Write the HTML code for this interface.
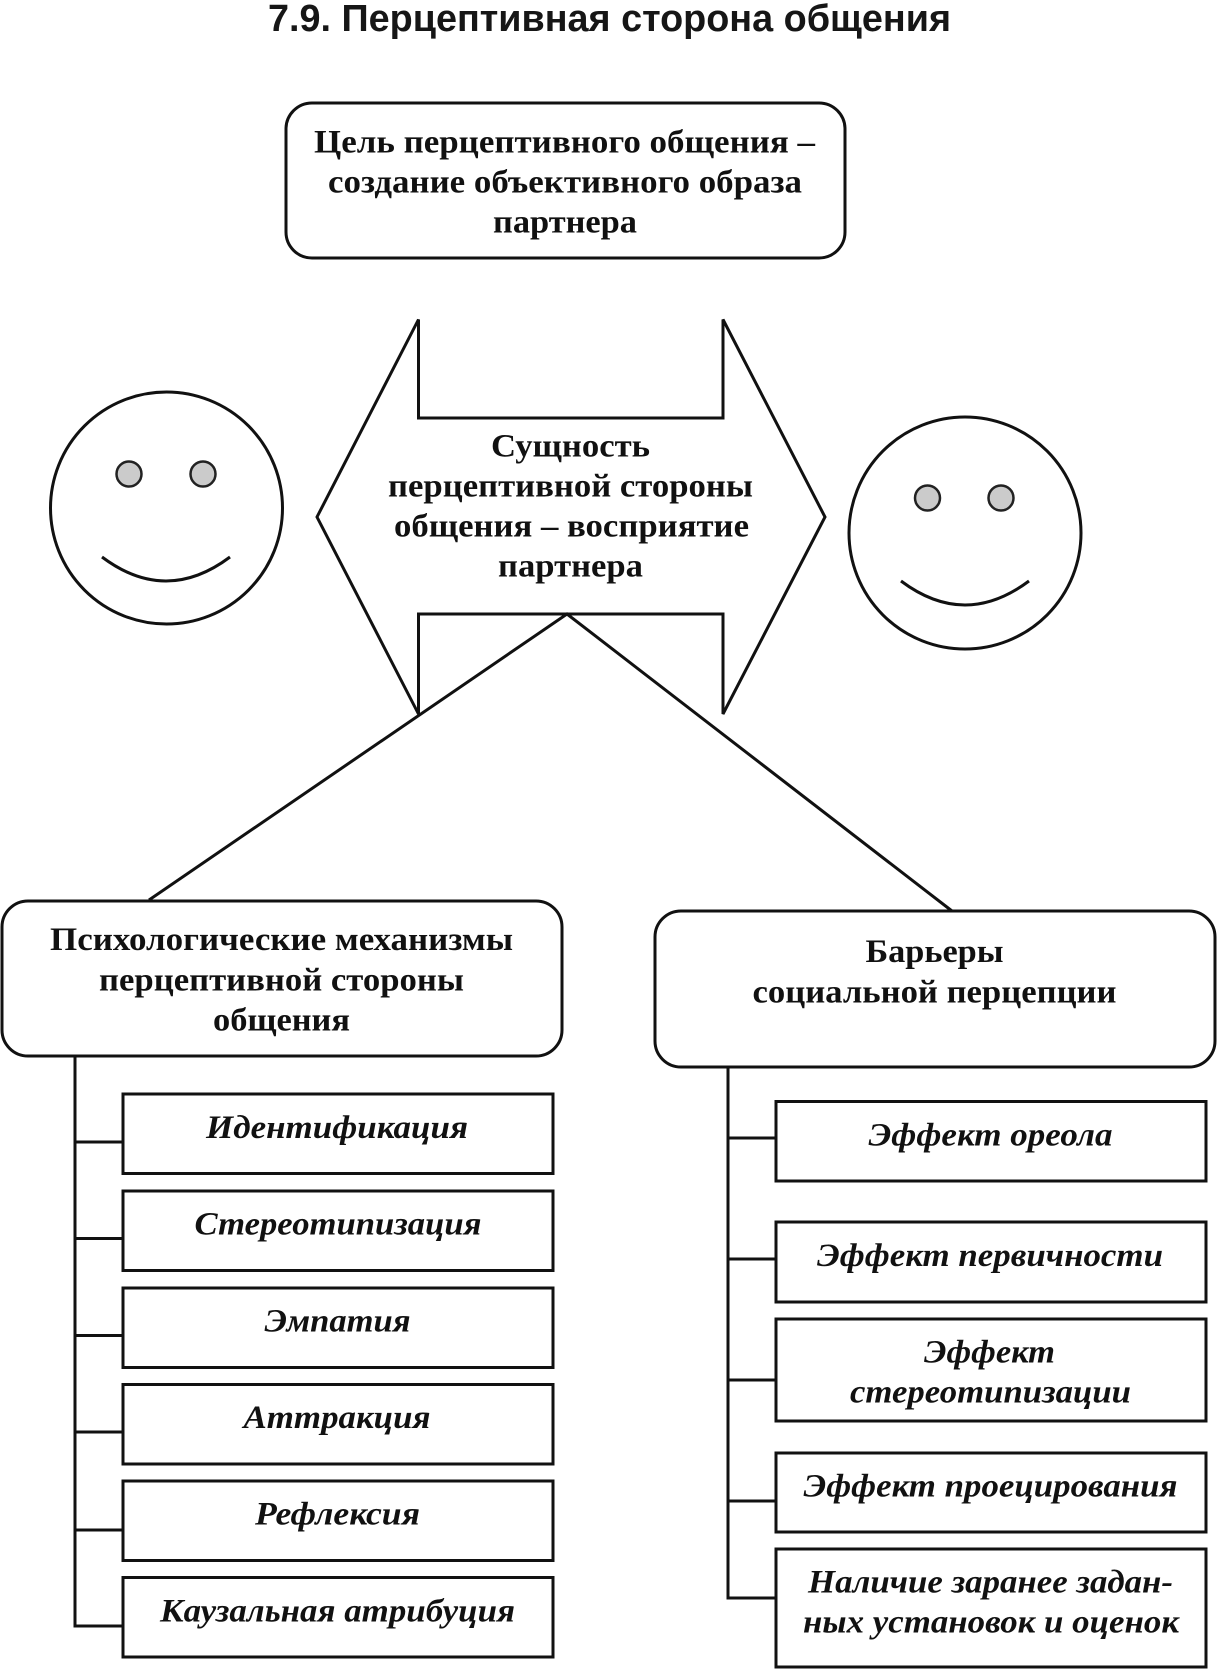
<!DOCTYPE html>
<html lang="ru"><head><meta charset="utf-8"><title>7.9. Перцептивная сторона общения</title>
<style>
html,body{margin:0;padding:0;background:#fff;width:1217px;height:1669px;overflow:hidden}
svg{display:block}
text{fill:#111;font-family:"Liberation Serif","DejaVu Serif",serif;font-size:33px;font-weight:bold}
.i{font-style:italic}
.t{font-family:"Liberation Sans","DejaVu Sans",sans-serif;font-size:38px;fill:#161616}
.s{fill:#fff;stroke:#111;stroke-width:3}
.l{fill:none;stroke:#111;stroke-width:3}
.e{fill:#cbcbcb;stroke:#222;stroke-width:2.5}
</style></head><body>
<svg width="1217" height="1669" viewBox="0 0 1217 1669" xmlns="http://www.w3.org/2000/svg">
<text class="t" x="268" y="31" textLength="683" lengthAdjust="spacingAndGlyphs">7.9. Перцептивная сторона общения</text>

<rect class="s" x="286" y="103" width="559" height="155" rx="26"/>
<text x="314" y="152.5" textLength="501" lengthAdjust="spacingAndGlyphs">Цель перцептивного общения –</text>
<text x="328" y="192.5" textLength="474" lengthAdjust="spacingAndGlyphs">создание объективного образа</text>
<text x="493" y="232.5" textLength="144" lengthAdjust="spacingAndGlyphs">партнера</text>

<polygon class="s" points="418.5,319.5 418.5,418 723,418 723,319.5 825,517 723,714 723,614 418.5,614 418.5,714 317,517"/>
<text x="491" y="456.5" textLength="159" lengthAdjust="spacingAndGlyphs">Сущность</text>
<text x="388" y="496.5" textLength="365" lengthAdjust="spacingAndGlyphs">перцептивной стороны</text>
<text x="394" y="536.5" textLength="355" lengthAdjust="spacingAndGlyphs">общения – восприятие</text>
<text x="498" y="576.5" textLength="145" lengthAdjust="spacingAndGlyphs">партнера</text>

<path class="l" d="M149,900 L567,614 L952,911"/>

<circle class="s" cx="166.5" cy="508" r="116"/>
<circle class="e" cx="129" cy="474" r="12.5"/><circle class="e" cx="203" cy="474" r="12.5"/>
<path class="l" d="M102,557 Q166,605 230,557"/>
<circle class="s" cx="965" cy="533" r="116"/>
<circle class="e" cx="927.5" cy="498" r="12.5"/><circle class="e" cx="1001" cy="498" r="12.5"/>
<path class="l" d="M901,581 Q965,629 1029,581"/>

<rect class="s" x="2" y="901" width="560" height="155" rx="26"/>
<text x="50" y="950" textLength="463" lengthAdjust="spacingAndGlyphs">Психологические механизмы</text>
<text x="99" y="990.5" textLength="365" lengthAdjust="spacingAndGlyphs">перцептивной стороны</text>
<text x="213" y="1030.5" textLength="137" lengthAdjust="spacingAndGlyphs">общения</text>

<rect class="s" x="655" y="911" width="560" height="156" rx="26"/>
<text x="865.5" y="962" textLength="138" lengthAdjust="spacingAndGlyphs">Барьеры</text>
<text x="752.5" y="1002.5" textLength="364" lengthAdjust="spacingAndGlyphs">социальной перцепции</text>

<path class="l" d="M75,1056 V1626 M75,1142 H123 M75,1238.5 H123 M75,1335.5 H123 M75,1432 H123 M75,1530 H123 M73.5,1626 H123"/>
<rect class="s" x="123" y="1094" width="430" height="79.5"/>
<rect class="s" x="123" y="1191" width="430" height="79.5"/>
<rect class="s" x="123" y="1288" width="430" height="79.5"/>
<rect class="s" x="123" y="1384.5" width="430" height="79.5"/>
<rect class="s" x="123" y="1481" width="430" height="79.5"/>
<rect class="s" x="123" y="1577.5" width="430" height="79.5"/>
<text class="i" x="206" y="1138" textLength="262" lengthAdjust="spacingAndGlyphs">Идентификация</text>
<text class="i" x="194.5" y="1234.5" textLength="287" lengthAdjust="spacingAndGlyphs">Стереотипизация</text>
<text class="i" x="264.5" y="1331.5" textLength="146" lengthAdjust="spacingAndGlyphs">Эмпатия</text>
<text class="i" x="243.5" y="1428" textLength="187" lengthAdjust="spacingAndGlyphs">Аттракция</text>
<text class="i" x="255" y="1524.5" textLength="165" lengthAdjust="spacingAndGlyphs">Рефлексия</text>
<text class="i" x="160" y="1621.5" textLength="355" lengthAdjust="spacingAndGlyphs">Каузальная атрибуция</text>

<path class="l" d="M728,1067 V1598 M728,1138 H776 M728,1259 H776 M728,1380 H776 M728,1501 H776 M726.5,1598 H776"/>
<rect class="s" x="776" y="1101.5" width="430" height="79.5"/>
<rect class="s" x="776" y="1222" width="430" height="80"/>
<rect class="s" x="776" y="1319" width="430" height="102"/>
<rect class="s" x="776" y="1453" width="430" height="79"/>
<rect class="s" x="776" y="1549" width="430" height="118"/>
<text class="i" x="868.5" y="1145.5" textLength="244" lengthAdjust="spacingAndGlyphs">Эффект ореола</text>
<text class="i" x="817" y="1266" textLength="346" lengthAdjust="spacingAndGlyphs">Эффект первичности</text>
<text class="i" x="924" y="1362.5" textLength="131" lengthAdjust="spacingAndGlyphs">Эффект</text>
<text class="i" x="850" y="1402.5" textLength="281" lengthAdjust="spacingAndGlyphs">стереотипизации</text>
<text class="i" x="803.5" y="1496.5" textLength="374" lengthAdjust="spacingAndGlyphs">Эффект проецирования</text>
<text class="i" x="808" y="1592.5" textLength="365" lengthAdjust="spacingAndGlyphs">Наличие заранее задан-</text>
<text class="i" x="803" y="1632.5" textLength="376" lengthAdjust="spacingAndGlyphs">ных установок и оценок</text>
</svg>
</body></html>
